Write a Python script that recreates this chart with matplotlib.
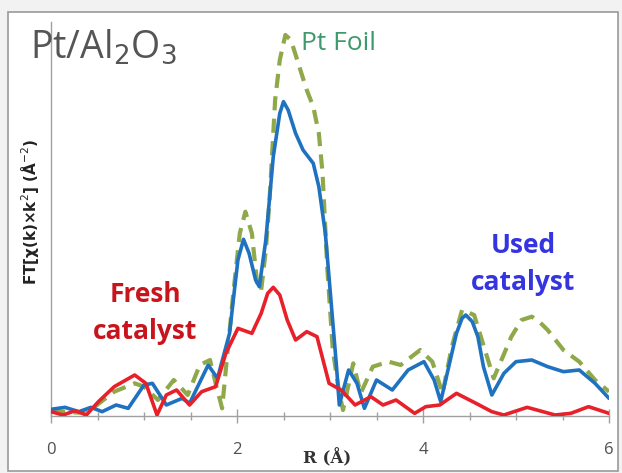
import matplotlib
matplotlib.use("Agg")
import matplotlib.pyplot as plt
from matplotlib.patches import Rectangle

# R (Angstrom) and FT magnitude
used_r = [0.0, 0.15, 0.3, 0.43, 0.55, 0.7, 0.83, 1.0, 1.09, 1.24, 1.41, 1.49,
          1.69, 1.79, 1.92, 1.96, 2.01, 2.07, 2.13, 2.2, 2.24, 2.31, 2.39, 2.46,
          2.5, 2.55, 2.63, 2.71, 2.82, 2.88, 2.95, 3.01, 3.07, 3.1, 3.2, 3.29,
          3.37, 3.5, 3.67, 3.84, 4.01, 4.12, 4.19, 4.31, 4.36, 4.42, 4.46, 4.53,
          4.59, 4.65, 4.74, 4.87, 5.0, 5.17, 5.34, 5.51, 5.68, 5.85, 6.0]
used_ft = [0.2, 0.26, 0.13, 0.26, 0.13, 0.33, 0.23, 0.93, 0.98, 0.33, 0.53, 0.38,
           1.53, 1.13, 2.48, 3.48, 4.68, 5.3, 4.88, 4.08, 3.88, 5.28, 7.78, 9.08,
           9.43, 9.18, 8.48, 7.98, 7.58, 6.88, 5.48, 3.48, 1.48, 0.33, 1.38, 0.98,
           0.23, 1.08, 0.78, 1.38, 1.63, 1.08, 0.43, 1.88, 2.48, 2.93, 3.03, 2.83,
           2.38, 1.48, 0.63, 1.28, 1.63, 1.68, 1.48, 1.33, 1.38, 0.98, 0.53]

fresh_r = [0.0, 0.13, 0.26, 0.38, 0.51, 0.68, 0.9, 1.02, 1.14, 1.24, 1.35, 1.49,
           1.62, 1.77, 1.88, 2.01, 2.16, 2.26, 2.33, 2.39, 2.46, 2.54, 2.63, 2.75,
           2.86, 2.99, 3.12, 3.27, 3.44, 3.57, 3.71, 3.91, 4.03, 4.18, 4.36, 4.57,
           4.74, 4.87, 5.12, 5.42, 5.59, 5.78, 6.0]
fresh_ft = [0.13, 0.03, 0.16, 0.03, 0.43, 0.88, 1.23, 0.98, 0.03, 0.63, 0.78, 0.33,
            0.73, 0.88, 1.88, 2.63, 2.48, 3.08, 3.68, 3.86, 3.63, 2.88, 2.28, 2.53,
            2.38, 0.98, 0.78, 0.33, 0.58, 0.33, 0.48, 0.08, 0.28, 0.33, 0.68, 0.38,
            0.13, 0.03, 0.26, 0.03, 0.08, 0.28, 0.08]

foil_r = [0.0, 0.3, 0.47, 0.68, 0.9, 1.0, 1.15, 1.32, 1.47, 1.6, 1.71, 1.77,
          1.84, 1.9, 1.96, 2.03, 2.09, 2.16, 2.22, 2.26, 2.31, 2.35, 2.41, 2.46,
          2.52, 2.58, 2.67, 2.75, 2.82, 2.88, 2.92, 2.97, 3.03, 3.1, 3.14, 3.25,
          3.33, 3.46, 3.63, 3.76, 3.97, 4.1, 4.21, 4.31, 4.42, 4.55, 4.76, 4.95,
          5.06, 5.17, 5.25, 5.34, 5.51, 5.68, 5.85, 6.0]
foil_ft = [0.15, 0.1, 0.28, 0.73, 0.98, 0.88, 0.48, 1.08, 0.63, 1.53, 1.68, 0.98,
           0.23, 1.98, 3.68, 5.48, 6.13, 5.48, 3.88, 3.78, 4.98, 6.48, 9.48, 10.68,
           11.43, 11.28, 10.48, 9.78, 9.28, 8.48, 7.28, 4.48, 1.98, 0.68, 0.18, 1.58,
           0.68, 1.48, 1.63, 1.53, 1.98, 1.63, 0.68, 2.08, 3.18, 3.03, 1.13, 2.38,
           2.88, 2.98, 2.83, 2.58, 1.98, 1.63, 1.08, 0.73]

x_ticks = [0, 2, 4, 6]

fig = plt.figure(figsize=(6.22, 4.73), dpi=100)
fig.patch.set_facecolor("#f2f2f2")
# white panel with grey border, kept behind the axes
panel = Rectangle((8 / 622, 2 / 473), 610 / 622, 459 / 473,
                  transform=fig.transFigure, facecolor="white",
                  edgecolor="#9a9a9a", linewidth=1.2, zorder=-5)
fig.patches.append(panel)

ax = fig.add_axes([51 / 622, 57 / 473, 558 / 622, 394 / 473])
ax.set_facecolor("none")
ax.set_zorder(2)

ax.plot(foil_r, foil_ft, color="#8fa94a", lw=3.0, ls=(0, (3.4, 2.0)),
        dash_joinstyle="round", zorder=2)
ax.plot(used_r, used_ft, color="#1f72c0", lw=2.6, solid_joinstyle="round",
        solid_capstyle="round", zorder=3)
ax.plot(fresh_r, fresh_ft, color="#e8202a", lw=2.6, solid_joinstyle="round",
        solid_capstyle="round", zorder=4)

ax.set_xlim(0, 6)
ax.set_ylim(0, 11.82)
for side in ["top", "right"]:
    ax.spines[side].set_visible(False)
for side in ["left", "bottom"]:
    ax.spines[side].set_color("#a0a0a0")
    ax.spines[side].set_linewidth(1.0)
ax.set_yticks([])
ax.set_xticks(x_ticks)
ax.set_xticks([0.5 * i for i in range(13)], minor=True)
ax.tick_params(axis="x", which="major", direction="inout", length=10, width=1,
               color="#a0a0a0", labelsize=12, labelcolor="#505050", pad=14)
ax.tick_params(axis="x", which="minor", direction="inout", length=6, width=1,
               color="#a0a0a0")
for lab in ax.get_xticklabels():
    lab.set_family("Open Sans")

fig.text(327 / 622, 1 - 458 / 473, "R (Å)", ha="center", va="center",
         fontsize=12, fontweight="bold", color="#333333", family="DejaVu Serif")
fig.text(30 / 622, 1 - 212 / 473, "FT[χ(k)×k$^2$] (Å$^{-2}$)", rotation=90,
         ha="center", va="center", fontsize=11, fontweight="bold", color="#222222")

fig.text(30 / 622, 1 - 47 / 473, "Pt/Al$_2$O$_3$", ha="left", va="center",
         fontsize=27, color="#555555", family="Open Sans")
fig.text(301 / 622, 1 - 44 / 473, "Pt Foil", ha="left", va="center",
         fontsize=19, color="#3e9a6c", family="Open Sans")
fig.text(145 / 622, 1 - 313 / 473, "Fresh\ncatalyst", ha="center", va="center",
         fontsize=19, fontweight="bold", color="#c8141c", family="Open Sans",
         linespacing=1.45)
fig.text(523 / 622, 1 - 264 / 473, "Used\ncatalyst", ha="center", va="center",
         fontsize=19, fontweight="bold", color="#3434e0", family="Open Sans",
         linespacing=1.45)

fig.savefig("out.png", dpi=100, facecolor=fig.get_facecolor())
